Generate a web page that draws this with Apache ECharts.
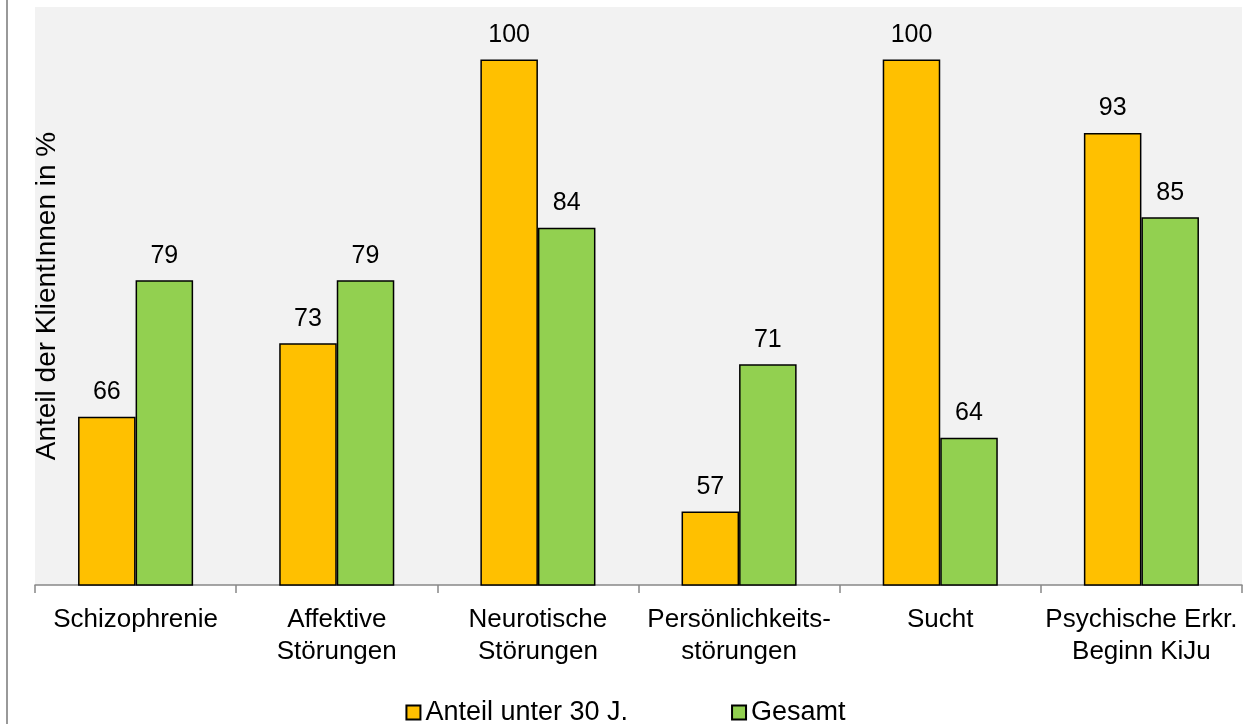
<!DOCTYPE html>
<html>
<head>
<meta charset="utf-8">
<script src="https://cdn.jsdelivr.net/npm/echarts@6/dist/echarts.min.js"></script>
<style>
  html, body { margin: 0; padding: 0; background: #fff; }
  #main { width: 1251px; height: 724px; }
</style>
</head>
<body>
<div id="main"></div>
<script>
// Kategorien (Diagnosegruppen)
var categories = [
    'Schizophrenie',
    'Affektive\nStörungen',
    'Neurotische\nStörungen',
    'Persönlichkeits-\nstörungen',
    'Sucht',
    'Psychische Erkr.\nBeginn KiJu'
];
var seriesNames = ['Anteil unter 30 J.', 'Gesamt'];
var unter30 = [66, 73, 100, 57, 100, 93];
var gesamt = [79, 79, 84, 71, 64, 85];

var font = 'Liberation Sans';

var chart = echarts.init(document.getElementById('main'));

var labelStyle = {
    show: true,
    position: 'top',
    distance: 12,
    color: '#000',
    fontFamily: font,
    fontSize: 25
};

var option = {
    animation: false,
    backgroundColor: '#fff',
    textStyle: { fontFamily: font },
    grid: {
        left: 35, right: 9, top: 7, bottom: 139,
        show: true,
        backgroundColor: '#f2f2f2',
        borderWidth: 0
    },
    legend: {
        top: 694,
        left: 'center',
        itemGap: 103,
        itemWidth: 14,
        itemHeight: 14,
        icon: 'rect',
        textStyle: { fontFamily: font, fontSize: 27, color: '#000' },
        data: seriesNames
    },
    xAxis: {
        type: 'category',
        data: categories,
        axisLine: { lineStyle: { color: '#888', width: 1.5 } },
        axisTick: { show: true, length: 8, lineStyle: { color: '#888', width: 1.5 } },
        axisLabel: {
            color: '#000',
            fontFamily: font,
            fontSize: 26,
            lineHeight: 32,
            margin: 19,
            interval: 0
        }
    },
    yAxis: {
        type: 'value',
        min: 50,
        max: 105,
        interval: 5,
        name: 'Anteil der KlientInnen in %',
        nameLocation: 'middle',
        nameGap: -26,
        nameTextStyle: { fontFamily: font, fontSize: 28, color: '#000' },
        axisLine: { show: false },
        axisTick: { show: false },
        axisLabel: { show: false },
        splitLine: { show: false }
    },
    series: [{
        name: seriesNames[0],
        type: 'bar',
        data: unter30,
        barWidth: '28.6%',
        barGap: '0%',
        itemStyle: { color: '#ffc000', borderColor: '#000', borderWidth: 1.5 },
        label: labelStyle
    }, {
        name: seriesNames[1],
        type: 'bar',
        data: gesamt,
        barWidth: '28.6%',
        itemStyle: { color: '#92d050', borderColor: '#000', borderWidth: 1.5 },
        label: labelStyle
    }],
    graphic: [{
        type: 'line',
        shape: { x1: 7, y1: 0, x2: 7, y2: 724 },
        style: { stroke: '#999', lineWidth: 2 }
    }]
};

chart.setOption(option);
</script>
</body>
</html>
